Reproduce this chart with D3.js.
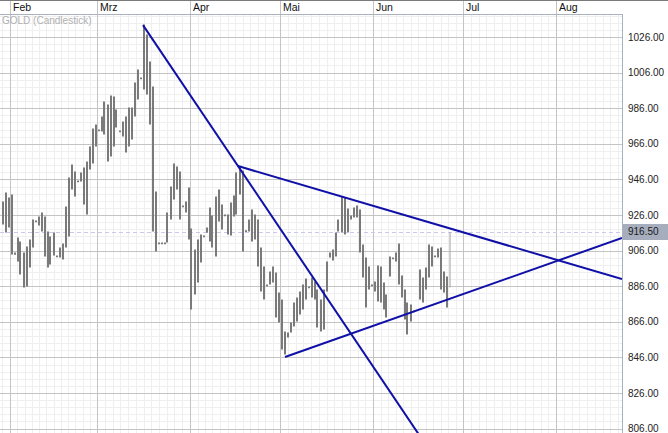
<!DOCTYPE html>
<html><head><meta charset="utf-8">
<script src="https://cdn.jsdelivr.net/npm/d3@7"></script>
<style>body{margin:0;background:#fff}svg{display:block}</style>
</head><body>
<script>
const title = "GOLD (Candlestick)";
const monthTicks = [["2008-02-01","Feb"],["2008-03-01","Mrz"],["2008-04-01","Apr"],["2008-05-01","Mai"],["2008-06-01","Jun"],["2008-07-01","Jul"],["2008-08-01","Aug"]];
const yTicks = [806,826,846,866,886,906,926,946,966,986,1006,1026];
const lastPrice = 916.5;
const candleDates = ["2008-01-29","2008-01-30","2008-01-31","2008-02-01","2008-02-02","2008-02-03","2008-02-04","2008-02-05","2008-02-06","2008-02-07","2008-02-08","2008-02-09","2008-02-10","2008-02-11","2008-02-12","2008-02-13","2008-02-14","2008-02-15","2008-02-16","2008-02-17","2008-02-18","2008-02-19","2008-02-20","2008-02-21","2008-02-22","2008-02-23","2008-02-24","2008-02-25","2008-02-26","2008-02-27","2008-02-28","2008-02-29",
"2008-03-01","2008-03-02","2008-03-03","2008-03-04","2008-03-05","2008-03-06","2008-03-07","2008-03-08","2008-03-09","2008-03-10","2008-03-11","2008-03-12","2008-03-13","2008-03-14","2008-03-15","2008-03-16","2008-03-17","2008-03-18","2008-03-19","2008-03-20","2008-03-21","2008-03-22","2008-03-23","2008-03-24","2008-03-25","2008-03-26","2008-03-27","2008-03-28","2008-03-29","2008-03-30","2008-03-31",
"2008-04-01","2008-04-02","2008-04-03","2008-04-04","2008-04-05","2008-04-06","2008-04-07","2008-04-08","2008-04-09","2008-04-10","2008-04-11","2008-04-12","2008-04-13","2008-04-14","2008-04-15","2008-04-16","2008-04-17","2008-04-18","2008-04-19","2008-04-20","2008-04-21","2008-04-22","2008-04-23","2008-04-24","2008-04-25","2008-04-26","2008-04-27","2008-04-28","2008-04-29","2008-04-30",
"2008-05-01","2008-05-02","2008-05-03","2008-05-04","2008-05-05","2008-05-06","2008-05-07","2008-05-08","2008-05-09","2008-05-10","2008-05-11","2008-05-12","2008-05-13","2008-05-14","2008-05-15","2008-05-16","2008-05-17","2008-05-18","2008-05-19","2008-05-20","2008-05-21","2008-05-22","2008-05-23","2008-05-24","2008-05-25","2008-05-26","2008-05-27","2008-05-28","2008-05-29","2008-05-30","2008-05-31",
"2008-06-01","2008-06-02","2008-06-03","2008-06-04","2008-06-05","2008-06-06","2008-06-07","2008-06-08","2008-06-09","2008-06-10","2008-06-11","2008-06-12","2008-06-13","2008-06-14","2008-06-16","2008-06-17","2008-06-18","2008-06-19","2008-06-20","2008-06-21","2008-06-22","2008-06-23","2008-06-24","2008-06-25","2008-06-26"];
const highs = [933.6,938.7,935.8,937.5,904.9,913.4,911.1,904.9,908.3,912.3,923.5,922.9,925.2,927.4,925.2,916.7,913.9,916.2,903.2,907.7,910.0,930.8,947.1,954.4,950.4,945.4,949.9,952.7,956.1,964.5,974.6,976.8,
974.0,981.3,989.8,988.1,993.1,992.6,985.3,973.5,978.5,981.3,986.4,986.4,1000.4,1007.7,1003.2,1033.0,1027.4,1012.2,998.2,939.2,910.5,910.5,910.5,927.4,942.0,955.0,953.3,950.4,931.4,933.6,941.5,
918.4,906.6,912.3,915.1,914.5,919.0,930.2,925.7,936.4,940.3,931.9,926.3,926.3,933.0,937.0,949.9,953.3,951.0,917.5,923.5,929.1,926.3,923.5,907.7,897.1,887.0,894.3,897.1,893.7,882.5,
878.5,860.5,860.0,865.6,876.8,879.7,883.0,887.0,890.3,885.8,890.9,888.6,884.2,878.5,884.2,899.9,904.9,906.6,916.2,923.5,936.4,935.8,929.7,925.7,930.2,931.4,929.1,909.4,902.1,897.1,887.0,
888.6,897.6,897.1,888.1,881.4,902.7,902.1,904.9,910.0,892.0,884.2,876.8,875.7,872.3,895.4,890.9,896.5,909.4,908.3,903.2,907.2,907.7,894.3,891.4,916.5];
const lows = [920.7,916.2,919.0,903.8,903.7,899.9,892.6,885.3,885.8,896.5,907.7,921.9,920.1,916.7,902.7,896.5,898.2,903.2,902.2,902.1,901.0,907.7,913.9,940.3,936.4,944.4,944.8,931.9,926.3,951.6,955.0,964.5,
973.0,972.9,971.2,956.1,958.9,964.5,975.2,972.5,970.1,961.1,964.5,968.4,981.3,990.9,1002.2,996.5,993.7,976.8,916.7,905.5,909.5,909.5,909.5,910.6,923.5,934.7,940.3,923.5,930.4,927.4,912.3,
872.9,881.3,888.1,899.3,913.5,916.0,911.1,907.7,902.7,922.4,917.9,925.3,915.1,914.5,925.2,926.3,937.5,905.5,916.5,916.7,911.1,912.2,897.1,883.0,878.5,886.0,886.9,888.1,868.4,865.6,
850.4,847.6,857.2,860.0,863.4,866.2,870.1,872.9,878.5,884.8,879.7,878.5,862.8,860.5,861.7,883.0,902.1,900.4,902.7,916.7,916.2,915.1,916.2,923.5,924.6,924.6,905.0,890.9,874.0,884.2,886.0,
883.0,877.4,876.8,872.9,868.4,891.4,901.1,899.9,887.0,879.7,867.3,858.9,866.2,871.3,878.5,876.8,884.2,890.9,897.1,902.2,902.1,884.2,882.5,874.0,885.3];
const trendLines = [
  [["2008-03-16 08:00",1032.7],["2008-06-20 00:00",793.4]],
  [["2008-04-17 00:00",953.5],["2008-08-23 00:00",890.0]],
  [["2008-05-02 16:00",846.2],["2008-08-23 00:00",913.1]]
];

const W = 668, H = 433, plotR = 622, plotT = 14, plotB = H;
const pDay = d3.timeParse("%Y-%m-%d"), pTime = d3.timeParse("%Y-%m-%d %H:%M");
const svg = d3.select("body").append("svg").attr("width", W).attr("height", H)
  .style("font-family", "'Liberation Sans', Arial, sans-serif");

const x = d3.scaleTime()
  .domain([pTime("2008-01-28 16:00"), pTime("2008-08-23 00:00")])
  .range([0, plotR]);
const y = d3.scaleLinear().domain([806, 1026]).range([428.6, 37]);

svg.append("defs").append("clipPath").attr("id","clip")
  .append("rect").attr("x",0).attr("y",plotT).attr("width",plotR).attr("height",plotB-plotT);

const grid = svg.append("g").attr("clip-path","url(#clip)");
grid.selectAll(".mh").data(d3.range(790, 1046, 4)).enter().append("line")
  .attr("x1",0).attr("x2",plotR)
  .attr("y1",d=>Math.round(y(d))+0.5).attr("y2",d=>Math.round(y(d))+0.5)
  .attr("stroke","#efefef").attr("stroke-width",1);
const mStarts = d3.timeMonth.range(pDay("2008-01-01"), pDay("2008-09-01"));
const minorV = [];
mStarts.forEach(m => {
  const n = d3.timeMonth.offset(m,1);
  for (let i=1;i<12;i++) minorV.push(new Date(+m + (n-m)*i/12));
});
grid.selectAll(".mv").data(minorV).enter().append("line")
  .attr("y1",plotT).attr("y2",plotB)
  .attr("x1",d=>Math.round(x(d))+0.5).attr("x2",d=>Math.round(x(d))+0.5)
  .attr("stroke","#efefef").attr("stroke-width",1);
grid.selectAll(".gh").data(yTicks).enter().append("line")
  .attr("x1",0).attr("x2",plotR)
  .attr("y1",d=>Math.round(y(d))+0.5).attr("y2",d=>Math.round(y(d))+0.5)
  .attr("stroke","#c4c4c4").attr("stroke-width",1);

svg.selectAll(".gv").data(monthTicks).enter().append("line")
  .attr("y1",0).attr("y2",plotB)
  .attr("x1",d=>Math.round(x(pDay(d[0])))+0.5).attr("x2",d=>Math.round(x(pDay(d[0])))+0.5)
  .attr("stroke","#c4c4c4").attr("stroke-width",1);

svg.append("line").attr("x1",0).attr("x2",W).attr("y1",0.5).attr("y2",0.5).attr("stroke","#7a7a7a");
svg.append("line").attr("x1",0).attr("x2",plotR).attr("y1",plotT+0.5).attr("y2",plotT+0.5).attr("stroke","#a9b3bf");
svg.append("line").attr("x1",plotR+0.5).attr("x2",plotR+0.5).attr("y1",plotT).attr("y2",H).attr("stroke","#a9b3bf");

svg.selectAll(".ml").data(monthTicks).enter().append("text")
  .attr("x",d=>x(pDay(d[0]))+3).attr("y",11)
  .attr("font-size",10.5).attr("fill","#111").text(d=>d[1]);

svg.append("text").attr("x",2).attr("y",24).attr("font-size",10).attr("fill","#b0b0b0").text(title);

svg.append("line").attr("clip-path","url(#clip)")
  .attr("x1",0).attr("x2",plotR)
  .attr("y1",Math.round(y(lastPrice))+0.5).attr("y2",Math.round(y(lastPrice))+0.5)
  .attr("stroke","#c9c9ee").attr("stroke-dasharray","4,3");

const candles = candleDates.map((d,i)=>({date:d3.timeHour.offset(pDay(d),12), h:highs[i], l:lows[i]}));
const last = candles.length-1;
svg.append("g").attr("clip-path","url(#clip)").selectAll("line").data(candles).enter().append("line")
  .attr("x1",d=>Math.round(x(d.date))).attr("x2",d=>Math.round(x(d.date)))
  .attr("y1",d=>y(d.h)).attr("y2",d=>Math.max(y(d.l), y(d.h)+1.5))
  .attr("stroke",(d,i)=>i===last?"#a0a0a0":"#7a7a7a")
  .attr("stroke-width",(d,i)=>i===last?1:2);

const tl = d3.line().x(d=>x(pTime(d[0]))).y(d=>y(d[1]));
svg.append("g").attr("clip-path","url(#clip)").selectAll("path").data(trendLines).enter().append("path")
  .attr("d",tl).attr("fill","none").attr("stroke","#1010a8").attr("stroke-width",2);

svg.selectAll(".yl").data(yTicks).enter().append("text")
  .attr("x",628).attr("y",d=>y(d)).attr("dy","0.35em")
  .attr("font-size",10).attr("fill","#222").text(d=>d.toFixed(2));

svg.append("rect").attr("x",plotR+1).attr("y",Math.round(y(lastPrice))-8).attr("width",W-plotR-1).attr("height",16)
  .attr("fill","#a6aebe");
svg.append("text").attr("x",628).attr("y",y(lastPrice)).attr("dy","0.35em")
  .attr("font-size",10).attr("fill","#1a1a1a").text(lastPrice.toFixed(2));
</script>
</body></html>
